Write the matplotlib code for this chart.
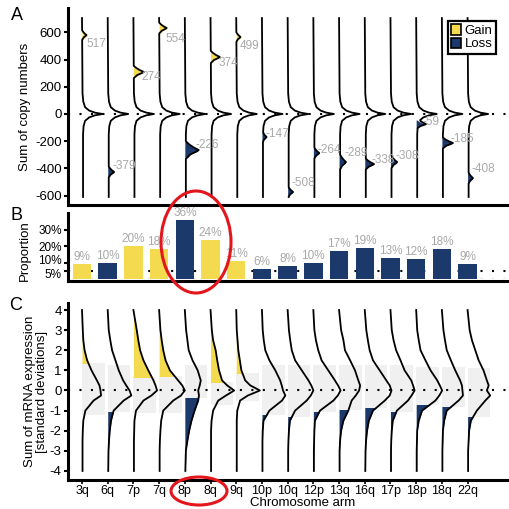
import numpy as np
import matplotlib
matplotlib.use("Agg")
import matplotlib.pyplot as plt
import matplotlib.transforms as mtrans
from matplotlib.patches import Patch, Rectangle, Ellipse

plt.rcParams['font.family'] = ['Liberation Sans', 'DejaVu Sans']
plt.rcParams['axes.unicode_minus'] = False

YELLOW = "#f3da4f"
NAVY = "#1b3a6b"
GREYTXT = "#a8a8a8"

arms = ["3q", "6q", "7p", "7q", "8p", "8q", "9q", "10p", "10q", "12p",
        "13q", "16q", "17p", "18p", "18q", "22q"]
status = ["gain", "loss", "gain", "gain", "loss", "gain", "gain", "loss",
          "loss", "loss", "loss", "loss", "loss", "loss", "loss", "loss"]

# panel A: sum of copy numbers (label), peak position, peak width, peak half height
cn_label = [517, -379, 274, 554, -226, 374, 499, -147, -508, -264,
            -289, -338, -308, -59, -185, -408]
cn_peak = [580, -426, 309, 632, -265, 419, 566, -169, -573, -287,
           -353, -368, -353, -74, -213, -471]
cn_peak_w = [0.17, 0.21, 0.39, 0.29, 0.5, 0.35, 0.16, 0.14, 0.17, 0.19,
             0.23, 0.32, 0.22, 0.3, 0.39, 0.17]
cn_peak_h = [35, 40, 45, 40, 65, 45, 35, 35, 35, 40, 55, 40, 45, 30, 40, 40]

# common shape of the spike at zero in panel A
a_levels = [-610, -150, -90, -50, -25, -10, 0, 10, 25, 50, 90, 150, 705]
a_width = [0.04, 0.04, 0.06, 0.12, 0.28, 0.5, 0.8, 0.5, 0.28, 0.12, 0.05, 0.02, 0.0]
bump_shape_v = [-1, -0.5, -0.15, 0, 0.3, 0.65, 1]
bump_shape_w = [0, 0.35, 0.85, 1, 0.6, 0.25, 0]

# panel B: proportion (%)
prop = [9, 10, 20, 18, 36, 24, 11, 6, 8, 10, 17, 19, 13, 12, 18, 9]

# panel C: mRNA expression density profiles
c_levels = [4, 3, 2.5, 2, 1.5, 1, 0.5, 0.25, 0, -0.25, -0.5, -1, -1.5, -2, -2.5, -3, -4]
c_width = {
    "3q": [0, 0.03, 0.05, 0.1, 0.2, 0.37, 0.58, 0.68, 0.72, 0.74, 0.45, 0.13, 0.05, 0.03, 0.02, 0.02, 0.02],
    "6q": [0, 0.04, 0.1, 0.17, 0.3, 0.43, 0.6, 0.72, 0.85, 0.92, 0.62, 0.23, 0.13, 0.08, 0.05, 0.03, 0.02],
    "7p": [0, 0.13, 0.19, 0.26, 0.39, 0.58, 0.78, 0.86, 0.92, 0.7, 0.39, 0.1, 0.04, 0.03, 0.02, 0.02, 0.02],
    "7q": [0, 0.05, 0.1, 0.16, 0.25, 0.42, 0.74, 0.9, 1.0, 0.85, 0.55, 0.16, 0.08, 0.05, 0.03, 0.02, 0.02],
    "8p": [0, 0.05, 0.1, 0.15, 0.3, 0.5, 0.62, 0.58, 0.52, 0.55, 0.52, 0.38, 0.26, 0.17, 0.1, 0.04, 0.02],
    "8q": [0, 0.05, 0.1, 0.2, 0.26, 0.33, 0.45, 0.65, 0.92, 0.6, 0.3, 0.1, 0.04, 0.02, 0.02, 0.02, 0.02],
    "9q": [0, 0.02, 0.05, 0.08, 0.14, 0.2, 0.35, 0.55, 0.92, 0.45, 0.15, 0.04, 0.02, 0.02, 0.02, 0.02, 0.02],
    "10p": [0, 0.03, 0.07, 0.13, 0.29, 0.52, 0.71, 0.77, 0.82, 0.91, 0.78, 0.29, 0.06, 0.03, 0.02, 0.02, 0.02],
    "10q": [0, 0.05, 0.1, 0.16, 0.29, 0.55, 0.81, 0.92, 1.0, 0.9, 0.74, 0.29, 0.09, 0.05, 0.03, 0.02, 0.02],
    "12p": [0, 0.04, 0.1, 0.19, 0.32, 0.58, 0.84, 0.96, 1.06, 0.95, 0.78, 0.26, 0.06, 0.04, 0.03, 0.02, 0.02],
    "13q": [0, 0.08, 0.17, 0.23, 0.43, 0.62, 0.75, 0.82, 0.78, 0.65, 0.49, 0.36, 0.17, 0.08, 0.04, 0.02, 0.02],
    "16q": [0, 0.06, 0.12, 0.19, 0.32, 0.58, 0.84, 0.97, 1.04, 0.97, 0.78, 0.32, 0.16, 0.09, 0.05, 0.03, 0.02],
    "17p": [0, 0.05, 0.12, 0.22, 0.39, 0.55, 0.81, 0.88, 0.94, 0.82, 0.68, 0.25, 0.09, 0.05, 0.03, 0.02, 0.02],
    "18p": [0, 0.04, 0.1, 0.17, 0.36, 0.56, 0.82, 0.92, 1.01, 0.9, 0.75, 0.23, 0.1, 0.04, 0.03, 0.02, 0.02],
    "18q": [0, 0.06, 0.12, 0.19, 0.35, 0.52, 0.71, 0.78, 0.8, 0.82, 0.65, 0.19, 0.09, 0.04, 0.03, 0.02, 0.02],
    "22q": [0, 0.08, 0.17, 0.3, 0.43, 0.62, 0.75, 0.82, 0.75, 0.88, 0.69, 0.36, 0.13, 0.06, 0.04, 0.02, 0.02],
}
c_upper = [1.37, 1.27, 0.67, 0.72, 1.27, 0.44, 0.87, 1.27, 1.27, 1.25, 1.25, 1.25, 1.25, 1.18, 1.18, 1.1]
c_lower = [-1.22, -1.05, -1.13, -1.13, -0.35, -0.7, -0.5, -1.22, -1.3, -1.05, -0.97, -0.87, -1.05, -0.72, -0.82, -1.3]

W, H = 510, 509
fig = plt.figure(figsize=(W / 100, H / 100), dpi=100)


def box(left, top, right, bottom):
    return [left / W, 1 - bottom / H, (right - left) / W, (bottom - top) / H]


axA = fig.add_axes(box(68, 8, 510, 205))
axB = fig.add_axes(box(68, 213, 510, 281))
axC = fig.add_axes(box(68, 303, 510, 480))

x = np.arange(len(arms))
xlim = (-0.545, 16.65)

for ax in (axA, axB, axC):
    ax.set_xlim(*xlim)
    for s in ("top", "right"):
        ax.spines[s].set_visible(False)
    for s in ("left", "bottom"):
        ax.spines[s].set_linewidth(2.2)
    ax.tick_params(axis="y", length=3, width=1.5, pad=1.5, labelsize=9.5)
    ax.axhline(0, color="black", lw=1.5, dashes=(1, 4.5), zorder=1)

# ---- A
for i in x:
    p, h, w = cn_peak[i], cn_peak_h[i], cn_peak_w[i]
    bv = [p + s * h for s in bump_shape_v]
    bw = [s * w for s in bump_shape_w]
    vv = np.unique(np.concatenate([a_levels, bv]))
    ww = np.interp(vv, a_levels, a_width) + np.interp(vv, bv, bw, left=0, right=0)
    col = YELLOW if status[i] == "gain" else NAVY
    axA.fill_betweenx(bv, i, i + np.array(bw) + 0.03, color=col, lw=0, zorder=2)
    axA.plot(i + ww, vv, color="black", lw=1.3, zorder=3)
    axA.text(i + 0.75 * w + 0.03, cn_label[i], str(cn_label[i]), color=GREYTXT,
             fontsize=8.5, ha="left", va="center", zorder=4)
axA.set_ylim(-669, 779)
axA.set_yticks([-600, -400, -200, 0, 200, 400, 600])
axA.tick_params(axis="x", bottom=False, labelbottom=False)
axA.set_ylabel("Sum of copy numbers", fontsize=9.5)
axA.yaxis.set_label_coords(-0.083, 0.5)
axA.legend(handles=[Patch(facecolor=YELLOW, edgecolor="black", lw=1.2, label="Gain"),
                    Patch(facecolor=NAVY, edgecolor="black", lw=1.2, label="Loss")],
           loc="upper right", bbox_to_anchor=(0.968, 0.935), fontsize=9.5,
           frameon=True, fancybox=False, framealpha=1, edgecolor="black",
           borderpad=0.25, handlelength=0.75, handleheight=0.85,
           handletextpad=0.25, labelspacing=0.05, borderaxespad=0)
axA.get_legend().get_frame().set_linewidth(1.6)

# ---- B
axB.axhline(0, color="white", lw=2, zorder=1)
axB.axhline(5, color="black", lw=1.5, dashes=(1, 4.5), zorder=1)
bar_cols = [YELLOW if s == "gain" else NAVY for s in status]
axB.bar(x, prop, width=0.72, color=bar_cols, zorder=2)
for i in x:
    axB.text(i, prop[i] + 0.6, f"{prop[i]}%", color=GREYTXT, fontsize=8.5,
             ha="center", va="bottom", zorder=4)
axB.set_ylim(-1.2, 40.2)
axB.set_yticks([5, 10, 20, 30])
axB.set_yticklabels(["5%", "10%", "20%", "30%"])
axB.tick_params(axis="y", labelsize=8.5)
axB.tick_params(axis="x", bottom=False, labelbottom=False)
# spread the two crowded lower labels a little, as in the original
nudges = [-2.0, 2.0, 0, 0]
for lab, dy in zip(axB.get_yticklabels(), nudges):
    lab.set_transform(lab.get_transform() +
                      mtrans.ScaledTranslation(0, dy / 72, fig.dpi_scale_trans))
axB.set_ylabel("Proportion", fontsize=9.5)
axB.yaxis.set_label_coords(-0.083, 0.45)

# ---- C
for i, arm in enumerate(arms):
    w = np.array(c_width[arm])
    axC.add_patch(Rectangle((i, c_lower[i]), 0.88, c_upper[i] - c_lower[i],
                            facecolor="#f0f0f0", edgecolor="none", zorder=0.5))
    if status[i] == "gain":
        clip = Rectangle((i - 0.5, c_upper[i]), 2, 5, transform=axC.transData)
        col = YELLOW
    else:
        clip = Rectangle((i - 0.5, -5), 2, 5 + c_lower[i], transform=axC.transData)
        col = NAVY
    f = axC.fill_betweenx(c_levels, i, i + w, color=col, lw=0, zorder=2)
    f.set_clip_path(clip)
    axC.plot(i + w, c_levels, color="black", lw=1.3, zorder=3)
axC.set_ylim(-4.45, 4.35)
axC.set_yticks(range(-4, 5))
axC.set_xticks(x)
axC.set_xticklabels(arms, fontsize=9)
axC.tick_params(axis="x", length=3, width=1.2, pad=0.5)
axC.set_ylabel("Sum of mRNA expression\n[standard deviations]", fontsize=9.5,
               linespacing=1.05)
axC.yaxis.set_label_coords(-0.045, 0.5)
axC.set_xlabel("Chromosome arm", fontsize=9.5, va="top")
axC.xaxis.set_label_coords(0.53, -0.097)

# panel letters
for letter, px, py in (("A", 11, 16), ("B", 11, 215), ("C", 9, 305)):
    fig.text(px / W, 1 - py / H, letter, fontsize=13, ha="left", va="center")

# red highlight ellipses
for cx, cy, ew, eh in ((196, 242, 70, 102), (199, 491, 56, 28)):
    fig.add_artist(Ellipse((cx / 100, (H - cy) / 100), ew / 100, eh / 100,
                           transform=fig.dpi_scale_trans, fill=False,
                           edgecolor="#e3161c", lw=2.2, zorder=10))

fig.savefig("out.png", dpi=100)
